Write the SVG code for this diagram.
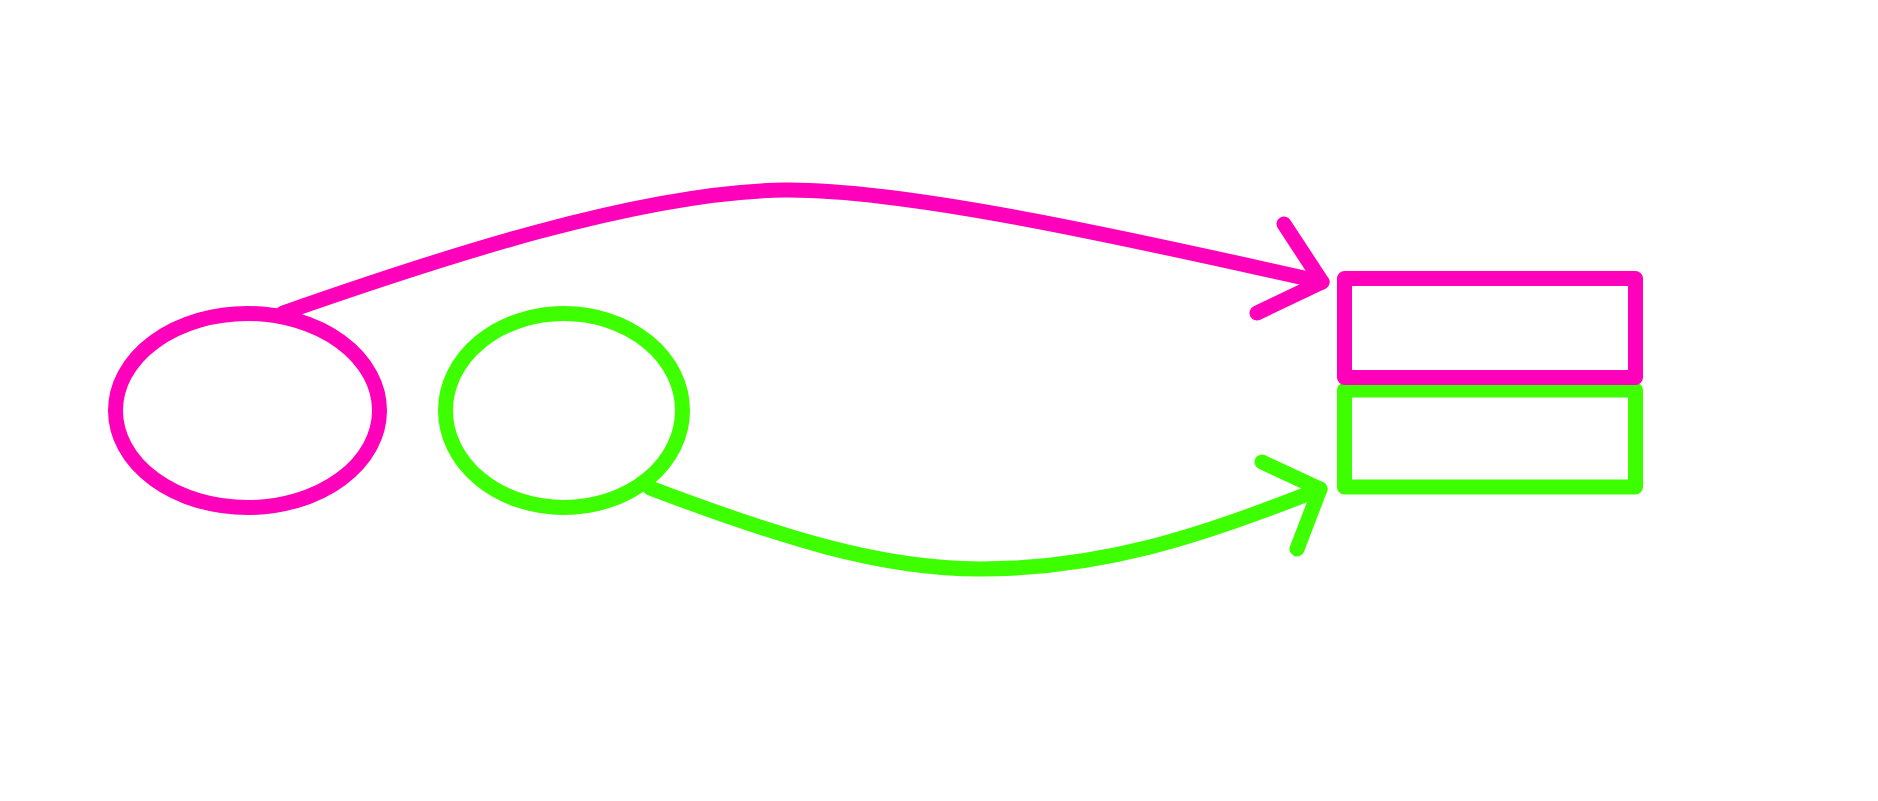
<svg xmlns="http://www.w3.org/2000/svg" width="1878" height="801" viewBox="0 0 1878 801">
<style>
.s{fill:none;stroke-width:15;stroke-linecap:round;stroke-linejoin:round}
.p{stroke:#ff00bb}
.g{stroke:#3dff00}
</style>
<rect width="1878" height="801" fill="#ffffff"/>
<g id="ellipse-pink"><ellipse class="s p" cx="247.5" cy="410.5" rx="132" ry="97"/></g>
<g id="ellipse-green"><ellipse class="s g" cx="564" cy="410.5" rx="118.5" ry="97"/></g>
<g id="rect-green"><rect class="s g" x="1344.5" y="390" width="291" height="97"/></g>
<g id="rect-pink"><rect class="s p" x="1344.5" y="278.5" width="291" height="99"/></g>
<g id="connectors">
<path class="s p" d="M283 313 C440 258 640 192 785 190 C900 189 1100 232 1322 282"/>
<path class="s p" d="M1284 224 L1322 282 L1257 313"/>
<path class="s g" d="M650 488 C780 537 880 569 980 569 C1100 569 1200 537 1320 489"/>
<path class="s g" d="M1262 462 L1320 489 L1297 549"/>
</g>
</svg>
